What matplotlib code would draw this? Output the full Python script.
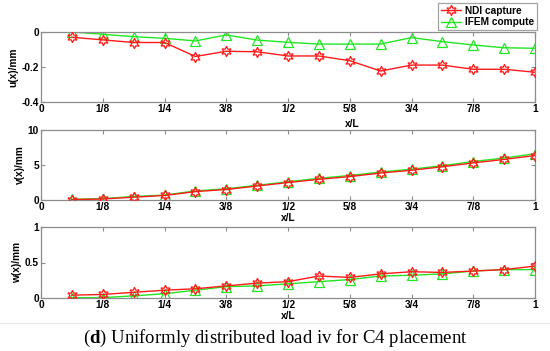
import matplotlib
matplotlib.use("Agg")
import matplotlib.pyplot as plt
import numpy as np

x_pos = [k / 16 for k in range(1, 17)]
xtick_vals = [0, 1/8, 1/4, 3/8, 1/2, 5/8, 3/4, 7/8, 1]
xtick_labels = ["0", "1/8", "1/4", "3/8", "1/2", "5/8", "3/4", "7/8", "1"]

u_ndi = [-0.03, -0.045, -0.06, -0.06, -0.14, -0.11, -0.113, -0.137, -0.137,
         -0.164, -0.223, -0.189, -0.189, -0.213, -0.213, -0.23]
u_ifem = [0.0, -0.013, -0.027, -0.036, -0.051, -0.017, -0.046, -0.059, -0.069,
          -0.069, -0.069, -0.032, -0.055, -0.074, -0.09, -0.093]

v_ndi = [0.05, 0.15, 0.4, 0.65, 1.2, 1.5, 2.0, 2.5, 2.95, 3.35, 3.85, 4.25,
         4.75, 5.3, 5.8, 6.35]
v_ifem = [0.1, 0.2, 0.5, 0.7, 1.3, 1.6, 2.1, 2.6, 3.1, 3.5, 4.0, 4.4,
          4.9, 5.5, 6.0, 6.6]

w_ndi = [0.04, 0.05, 0.08, 0.11, 0.13, 0.17, 0.21, 0.23, 0.31, 0.29, 0.34,
         0.37, 0.36, 0.38, 0.40, 0.45]
w_ifem = [0.005, 0.005, 0.03, 0.06, 0.11, 0.16, 0.17, 0.20, 0.23, 0.26, 0.31,
          0.32, 0.34, 0.38, 0.40, 0.40]

panels = [
    ("u(x)/mm", u_ndi, u_ifem, (-0.4, 0), [-0.4, -0.2, 0], ["-0.4", "-0.2", "0"]),
    ("v(x)/mm", v_ndi, v_ifem, (0, 10), [0, 5, 10], ["0", "5", "10"]),
    ("w(x)/mm", w_ndi, w_ifem, (0, 1), [0, 0.5, 1], ["0", "0.5", "1"]),
]

W, H = 550, 351
fig = plt.figure(figsize=(W / 100, H / 100), dpi=100)
plt.rcParams['font.family'] = ['Liberation Sans', 'DejaVu Sans']
plt.rcParams['mathtext.fontset'] = 'custom'
plt.rcParams['mathtext.rm'] = 'Liberation Serif'
plt.rcParams['mathtext.bf'] = 'Liberation Serif:bold'

boxes = [(32, 102), (130, 200), (227, 298)]
left, right = 41, 535
spine_col = "#8c8c8c"
red = "#ff1a1a"
green = "#22e622"
star = (6, 1, 0)

axes = []
for (top, bot), (ylab, nd, fe, ylim, yt, ytl) in zip(boxes, panels):
    ax = fig.add_axes([left / W, 1 - bot / H, (right - left) / W, (bot - top) / H])
    l1, = ax.plot(x_pos, nd, color=red, lw=1.0, marker=star, ms=7.5,
                  mfc="none", mec=red, mew=0.9, label="NDI capture", zorder=3)
    l2, = ax.plot(x_pos, fe, color=green, lw=1.0, marker="^", ms=7.5,
                  mfc="none", mec=green, mew=0.9, label="IFEM compute", zorder=2)
    ax.set_xlim(0, 1)
    ax.set_ylim(*ylim)
    ax.set_xticks(xtick_vals)
    ax.set_xticklabels(xtick_labels, fontsize=7.3, fontweight="bold")
    ax.set_yticks(yt)
    ax.set_yticklabels(ytl, fontsize=7.3, fontweight="bold")
    ax.tick_params(direction="in", top=True, right=True, length=3,
                   color=spine_col, pad=1.5)
    for s in ax.spines.values():
        s.set_color(spine_col)
        s.set_linewidth(0.9)
    ax.set_ylabel(ylab, fontsize=7.3, fontweight="bold", labelpad=2)
    axes.append((ax, l1, l2))

# x labels
axes[0][0].text(0.63, -0.32, "x/L", transform=axes[0][0].transAxes,
                fontsize=7.3, fontweight="bold", ha="center", va="center")
for ax, _, _ in axes[1:]:
    ax.set_xlabel("x/L", fontsize=7.3, fontweight="bold", labelpad=1)

ax0, l1, l2 = axes[0]
leg = fig.legend([l1, l2], ["NDI capture", "IFEM compute"],
                 loc="upper right", bbox_to_anchor=(537 / W, 1 - 3 / H),
                 prop={"size": 7.3, "weight": "bold"}, frameon=True,
                 fancybox=False, borderpad=0.25, handlelength=2.0,
                 handletextpad=0.4, labelspacing=0.15, borderaxespad=0)
leg.get_frame().set_edgecolor(spine_col)
leg.get_frame().set_linewidth(0.9)

# separator line
fig.add_artist(plt.Line2D([0, 1], [1 - 323 / H, 1 - 323 / H],
                          transform=fig.transFigure, color="#e6e6e6", lw=0.8))

fig.text(0.5, 1 - 338 / H, r"($\mathbf{d}$) Uniformly distributed load iv for C4 placement",
         ha="center", va="center", fontsize=13.5, family="Liberation Serif")

fig.savefig("out.png", dpi=100)
